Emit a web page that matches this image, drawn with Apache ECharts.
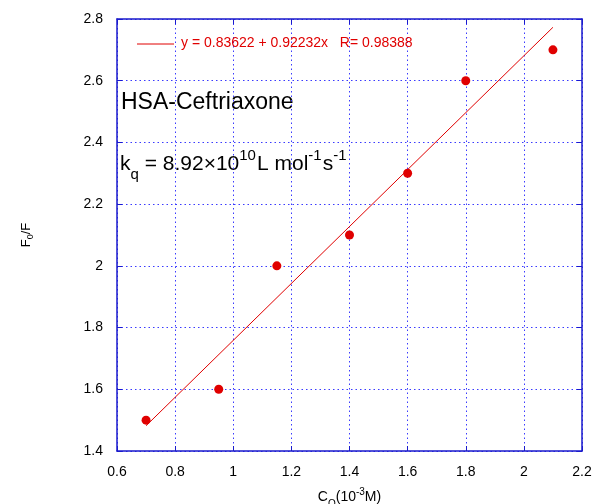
<!DOCTYPE html>
<html>
<head>
<meta charset="utf-8">
<script src="https://cdn.jsdelivr.net/npm/echarts@6/dist/echarts.min.js"></script>
<style>
html, body { margin: 0; padding: 0; background: #fff; }
#chart { width: 595px; height: 504px; }
</style>
</head>
<body>
<div id="chart"></div>
<script>
// 数据
var concs = [0.7, 0.95, 1.15, 1.4, 1.6, 1.8, 2.1];
var ratios = [1.5, 1.6, 2.0, 2.1, 2.3, 2.6, 2.7];
var fitA = 0.83622, fitB = 0.92232;
var fitLabel = 'y = 0.83622 + 0.92232x   R= 0.98388';

var pts = concs.map(function(x, i) { return [x, ratios[i]]; });
var xLo = concs[0], xHi = concs[concs.length - 1];
var fitLine = [[xLo, fitA + fitB * xLo], [xHi, fitA + fitB * xHi]];

var blue = '#1a1acc';
var red = '#e00000';
var font = 'Liberation Sans, Arial, sans-serif';

function axisBase(pos, showLabel) {
	return {
		type: 'value',
		position: pos,
		axisLine: { show: true, onZero: false, lineStyle: { color: blue, width: 1.5 } },
		axisTick: { show: true, inside: true, length: 5, lineStyle: { color: blue } },
		axisLabel: { show: showLabel, color: '#000', fontSize: 14, fontFamily: font, margin: 14 },
		splitLine: { show: showLabel, lineStyle: { color: '#3a3aff', type: [1.5, 3], width: 1 } }
	};
}

var myChart = echarts.init(document.getElementById('chart'));

var xMain = axisBase('bottom', true);
xMain.min = 0.6; xMain.max = 2.2; xMain.interval = 0.2;
xMain.name = '{c|C}{s|Q}{c|(10}{p|-3}{c|M)}';
xMain.nameLocation = 'middle';
xMain.nameGap = 34;
xMain.nameTextStyle = {
	rich: {
		c: { fontSize: 14, fontFamily: font, color: '#000' },
		s: { fontSize: 10, fontFamily: font, color: '#000', padding: [14, 0, 0, 0] },
		p: { fontSize: 10, fontFamily: font, color: '#000', padding: [0, 0, 9, 0] }
	}
};
var xTop = axisBase('top', false);
xTop.min = 0.6; xTop.max = 2.2; xTop.interval = 0.2;

var yMain = axisBase('left', true);
yMain.min = 1.4; yMain.max = 2.8; yMain.interval = 0.2;
yMain.name = '{c|F}{s|0}{c|/F}';
yMain.nameLocation = 'middle';
yMain.nameRotate = 90;
yMain.nameGap = 82;
yMain.nameTextStyle = {
	rich: {
		c: { fontSize: 13, fontFamily: font, color: '#000' },
		s: { fontSize: 9, fontFamily: font, color: '#000', padding: [9, 0, 0, 0] }
	}
};
var yRight = axisBase('right', false);
yRight.min = 1.4; yRight.max = 2.8; yRight.interval = 0.2;

var options = {
	animation: false,
	backgroundColor: '#fff',
	grid: { left: 117, right: 13, top: 19, bottom: 53, outerBoundsMode: 'none', containLabel: false },
	xAxis: [xMain, xTop],
	yAxis: [yMain, yRight],
	graphic: [
		{
			type: 'line', z: 100,
			shape: { x1: 137, y1: 44, x2: 174, y2: 44 },
			style: { stroke: red, lineWidth: 1 }
		},
		{
			type: 'text', left: 181, top: 36, z: 100,
			style: { text: fitLabel, fontSize: 14, fontFamily: font, fill: red }
		},
		{
			type: 'text', left: 121, top: 91,
			style: { text: 'HSA-Ceftriaxone', fontSize: 23, fontFamily: font, fill: '#000' }
		},
		{
			type: 'text', left: 120, top: 148,
			style: {
				text: '{n|k}{s|q}{n| = 8.92×10}{p|10}{n|L mol}{p|-1}{n|s}{p|-1}',
				rich: {
					n: { fontSize: 21, fontFamily: font, color: '#000' },
					s: { fontSize: 15, fontFamily: font, color: '#000', padding: [20, 0, 0, 0] },
					p: { fontSize: 15, fontFamily: font, color: '#000', padding: [0, 1, 18, 0] }
				}
			}
		}
	],
	series: [
		{
			name: fitLabel,
			type: 'line',
			data: fitLine,
			symbol: 'none',
			lineStyle: { color: red, width: 1 },
			itemStyle: { color: red }
		},
		{
			name: 'data',
			type: 'scatter',
			data: pts,
			symbolSize: 9,
			itemStyle: { color: red, opacity: 1 }
		}
	]
};

myChart.setOption(options);
</script>
</body>
</html>
